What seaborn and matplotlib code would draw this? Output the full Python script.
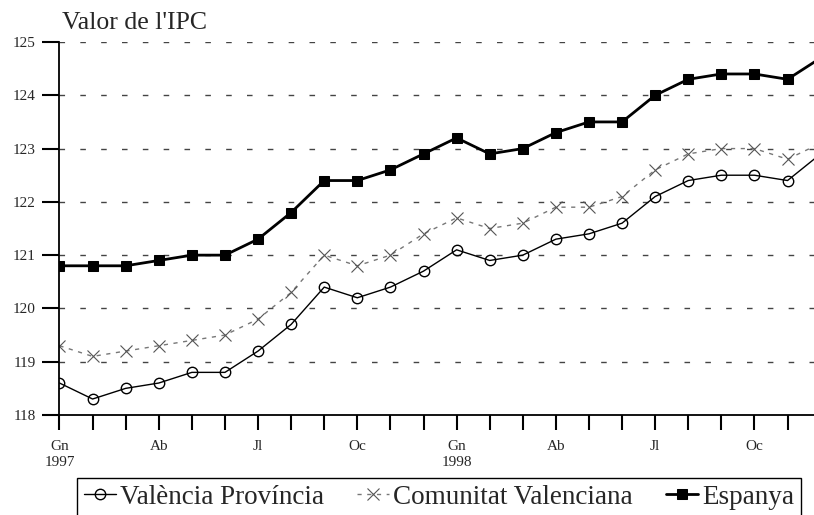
import matplotlib
matplotlib.use('Agg')
import matplotlib.pyplot as plt
import seaborn as sns
import pandas as pd

# dades: IPC mensual gener 1997 - desembre 1998
mesos = ['Gn', 'Fb', 'Mç', 'Ab', 'Mg', 'Jn', 'Jl', 'Ag', 'St', 'Oc', 'Nv', 'Dc']
anys = ['1997', '1998']

valencia = [118.6, 118.3, 118.5, 118.6, 118.8, 118.8, 119.2, 119.7, 120.4, 120.2, 120.4, 120.7,
            121.1, 120.9, 121.0, 121.3, 121.4, 121.6, 122.1, 122.4, 122.5, 122.5, 122.4, 122.9]
comunitat = [119.3, 119.1, 119.2, 119.3, 119.4, 119.5, 119.8, 120.3, 121.0, 120.8, 121.0, 121.4,
             121.7, 121.5, 121.6, 121.9, 121.9, 122.1, 122.6, 122.9, 123.0, 123.0, 122.8, 123.1]
espanya = [120.8, 120.8, 120.8, 120.9, 121.0, 121.0, 121.3, 121.8, 122.4, 122.4, 122.6, 122.9,
           123.2, 122.9, 123.0, 123.3, 123.5, 123.5, 124.0, 124.3, 124.4, 124.4, 124.3, 124.7]

df = pd.DataFrame({
    'mes': list(range(len(valencia))),
    'València Província': valencia,
    'Comunitat Valenciana': comunitat,
    'Espanya': espanya,
})

sns.set_style('white')
plt.rcParams['font.family'] = ['Liberation Serif', 'DejaVu Serif']

fig = plt.figure(figsize=(8.14, 5.15), dpi=100)
ax = fig.add_axes([59.5 / 814, 100 / 515, 754.5 / 814, 373 / 515])

sns.lineplot(data=df, x='mes', y='València Província', ax=ax, color='black', linewidth=1,
             marker='o', markersize=7.5, markerfacecolor='none', markeredgecolor='black',
             markeredgewidth=1, label='València Província')
sns.lineplot(data=df, x='mes', y='Comunitat Valenciana', ax=ax, color='#777777', linewidth=1,
             linestyle=(0, (3, 4)), marker='x', markersize=8.5, markeredgewidth=0.8,
             markeredgecolor='#555555', label='Comunitat Valenciana')
sns.lineplot(data=df, x='mes', y='Espanya', ax=ax, color='black', linewidth=2,
             marker='s', markersize=7, markerfacecolor='black', markeredgecolor='black',
             label='Espanya')

# eixos (ticks primer, després els límits)
ax.set_yticks(range(118, 126))
ax.set_xticks(range(23))
etiquetes = []
for i in range(23):
    if i % 3 == 0:
        txt = mesos[i % 12]
        if i % 12 == 0:
            txt += '\n' + anys[i // 12]
        etiquetes.append(txt)
    else:
        etiquetes.append('')
ax.set_xticklabels(etiquetes, fontsize=11, linespacing=1.3)
ax.set_xlim(0, 22.8)
ax.set_ylim(118, 125)
ax.tick_params(axis='y', left=True, labelsize=11, direction='out', length=12, width=1.5,
               pad=5, color='black')
ax.tick_params(axis='x', bottom=True, direction='out', length=11, width=1.5, pad=7,
               color='black')
ax.set_xlabel('')
ax.set_ylabel('')

for yv in range(119, 126):
    ax.axhline(yv, color='#444444', linewidth=1, linestyle=(0, (4, 11)), zorder=0)

sns.despine(ax=ax, top=True, right=True)
for s in ['left', 'bottom']:
    ax.spines[s].set_color('black')
    ax.spines[s].set_linewidth(1.3)

fig.text(62 / 814, 1 - 23 / 515, "Valor de l'IPC", fontsize=18.5, va='center', ha='left')

handles, labels = ax.get_legend_handles_labels()
ax.get_legend().remove()
leg = fig.legend(handles, labels, loc='upper left', bbox_to_anchor=(77 / 814, 1 - 478 / 515),
                 ncol=3, fontsize=19.5, frameon=True, fancybox=False, edgecolor='black',
                 framealpha=1, handlelength=1.2, handletextpad=0.15, columnspacing=1.2,
                 borderpad=0.25, borderaxespad=0)
leg.get_frame().set_linewidth(1)

fig.savefig('out.png', dpi=100)
